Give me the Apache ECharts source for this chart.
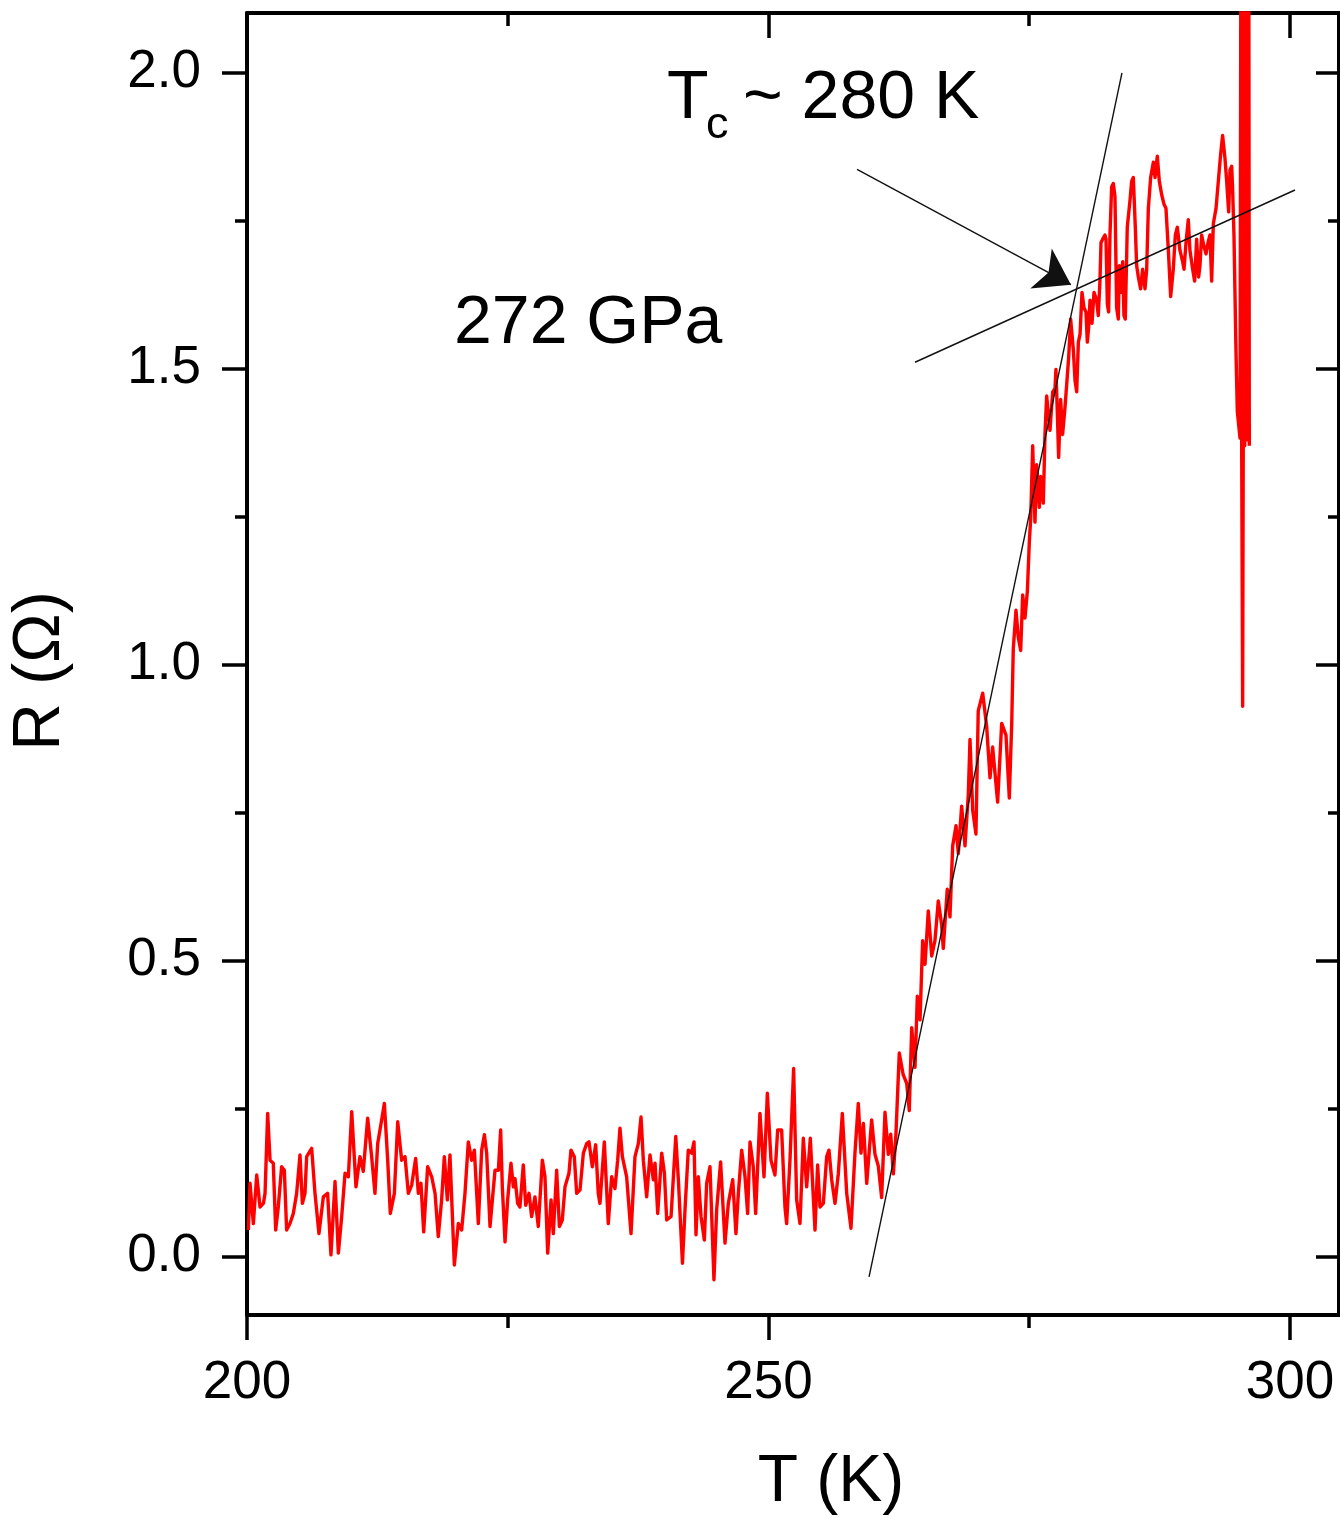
<!DOCTYPE html>
<html><head><meta charset="utf-8">
<script src="https://cdn.jsdelivr.net/npm/echarts@6/dist/echarts.min.js"></script>
<style>html,body{margin:0;padding:0;background:#fff}#c{width:1340px;height:1517px}</style>
</head><body><div id="c"></div>
<script>
// Temperature (K) and resistance (Ohm)
const temperature = [
200.13,200.29,200.61,200.93,201.25,201.57,201.73,201.98,202.21,202.52,202.75,203.00,203.32,203.58,203.80,204.12,204.44,204.76,205.08,205.31,205.56,205.72,206.20,206.52,206.90,207.32,207.73,208.05,208.44,208.76,209.08,209.40,209.72,210.04,210.45,210.83,211.15,211.57,211.95,212.27,212.53,212.91,213.17,213.49,213.74,214.13,214.45,214.83,215.15,215.47,215.79,216.17,216.43,216.68,216.94,217.32,217.71,218.03,218.34,218.66,218.92,219.21,219.46,219.88,220.26,220.58,
220.90,221.22,221.54,221.80,222.18,222.50,222.76,222.98,223.30,223.78,224.10,224.32,224.48,224.74,224.99,225.31,225.54,225.70,225.95,226.17,226.49,226.72,227.04,227.29,227.61,227.93,228.32,228.57,228.83,229.15,229.37,229.69,229.95,230.23,230.49,230.87,231.06,231.38,231.61,231.93,232.25,232.57,232.79,233.11,233.43,233.68,233.84,234.26,234.64,234.96,235.28,235.54,235.76,235.99,236.40,236.82,237.20,237.52,237.78,238.00,238.32,238.64,238.96,239.12,239.38,239.76,240.02,240.24,240.66,241.11,241.36,241.75,242.01,
242.31,242.63,242.86,243.05,243.27,243.53,243.85,244.07,244.39,244.77,245.03,245.41,245.83,246.15,246.57,246.88,247.11,247.43,247.75,248.00,248.23,248.54,248.77,249.18,249.57,249.89,250.24,250.62,250.88,251.26,251.58,251.74,252.06,252.41,252.70,253.02,253.34,253.66,254.01,254.46,254.71,254.94,255.26,255.58,255.80,256.06,256.38,256.70,257.08,257.50,257.91,258.29,258.61,258.87,259.10,259.42,
259.89,260.21,260.53,260.85,261.17,261.49,261.72,261.97,262.22,262.54,262.92,263.25,263.50,263.73,264.05,264.27,264.53,264.78,265.01,265.32,265.65,265.96,266.28,266.60,266.76,267.14,267.40,267.66,267.98,268.20,268.52,268.84,269.16,269.32,269.58,269.89,270.11,270.54,270.92,271.24,271.49,271.97,272.36,272.77,273.09,273.32,
273.47,273.73,273.95,274.18,274.37,274.59,274.82,275.01,275.14,275.33,275.55,275.71,275.97,276.09,276.35,276.51,276.67,276.99,277.25,277.47,277.56,277.69,277.82,278.01,278.20,278.43,278.59,278.78,278.97,279.23,279.39,279.55,279.71,279.87,280.06,280.25,280.44,280.57,280.70,280.83,281.02,281.21,281.46,281.62,281.78,281.88,282.04,282.26,282.36,282.49,282.61,282.74,282.90,283.06,283.22,283.38,283.54,283.64,283.76,283.96,284.08,284.21,284.40,284.66,284.82,284.98,285.17,285.30,285.46,285.68,285.87,286.10,286.26,286.42,286.64,286.90,287.06,287.28,287.47,287.70,287.92,288.11,288.34,288.56,288.81,289.01,289.20,289.45,289.71,289.84,290.03,290.25,290.41,290.67,290.86,291.05,291.24,291.37,291.53,291.75,291.95,292.14,292.33,292.49,292.65,292.91,293.16,293.35,293.54,293.77,293.93,294.12,294.25,294.41,294.50,294.63,294.82,294.95,295.21,
295.30,295.37,295.46,295.52,295.58,295.66,295.74,295.82,295.90,295.98,296.05,296.10
];
const resistance = [
0.045,0.124,0.056,0.138,0.084,0.090,0.107,0.242,0.163,0.158,0.045,0.084,0.152,0.146,0.045,0.056,0.073,0.107,0.172,0.090,0.107,0.169,0.183,0.107,0.039,0.101,0.107,0.003,0.127,0.006,0.068,0.141,0.135,0.245,0.118,0.169,0.144,0.234,0.169,0.107,0.191,0.231,0.259,0.163,0.073,0.107,0.228,0.163,0.169,0.107,0.121,0.166,0.107,0.124,0.042,0.152,0.135,0.107,0.034,0.096,0.169,0.096,0.172,-0.014,0.056,0.045,
0.107,0.194,0.163,0.180,0.056,0.180,0.206,0.175,0.051,0.146,0.146,0.214,0.118,0.025,0.096,0.158,0.118,0.132,0.090,0.084,0.155,0.087,0.107,0.068,0.101,0.051,0.163,0.135,0.006,0.096,0.039,0.146,0.051,0.062,0.118,0.141,0.180,0.169,0.107,0.113,0.175,0.191,0.194,0.152,0.189,0.107,0.090,0.194,0.056,0.135,0.115,0.163,0.217,0.169,0.135,0.039,0.169,0.191,0.236,0.163,0.101,0.172,0.130,0.158,0.073,0.175,0.141,0.062,0.068,0.203,0.130,-0.011,0.084,
0.180,0.175,0.194,0.037,0.135,0.068,0.028,0.124,0.152,-0.039,0.079,0.160,0.023,0.090,0.130,0.039,0.107,0.180,0.135,0.073,0.194,0.152,0.073,0.242,0.135,0.276,0.163,0.138,0.214,0.214,0.084,0.056,0.163,0.318,0.096,0.056,0.200,0.118,0.200,0.045,0.155,0.084,0.090,0.169,0.180,0.130,0.090,0.141,0.242,0.107,0.048,0.175,0.259,0.175,0.225,0.124,
0.231,0.173,0.153,0.100,0.244,0.173,0.207,0.140,0.207,0.344,0.307,0.293,0.247,0.387,0.320,0.440,0.400,0.534,0.494,0.584,0.508,0.534,0.601,0.561,0.521,0.621,0.574,0.694,0.728,0.681,0.761,0.694,0.781,0.874,0.754,0.714,0.922,0.952,0.895,0.809,0.861,0.768,0.901,0.881,0.775,0.901,
1.027,1.092,1.046,1.024,1.118,1.079,1.124,1.208,1.247,1.370,1.241,1.338,1.266,1.318,1.273,1.389,1.454,1.396,1.461,1.467,1.499,1.428,1.350,1.448,1.389,1.435,1.473,1.519,1.584,1.532,1.480,1.461,1.545,1.558,1.629,1.603,1.596,1.545,1.571,1.616,1.577,1.629,1.616,1.590,1.648,1.713,1.719,1.726,1.719,1.609,1.596,1.726,1.807,1.813,1.791,1.603,1.584,1.674,1.629,1.681,1.590,1.584,1.739,1.784,1.817,1.823,1.739,1.674,1.655,1.635,1.668,1.635,1.668,1.771,1.823,1.849,1.823,1.859,1.817,1.794,1.778,1.771,1.700,1.622,1.668,1.726,1.739,1.700,1.681,1.668,1.713,1.752,1.700,1.668,1.648,1.719,1.655,1.674,1.726,1.707,1.694,1.713,1.726,1.648,1.745,1.771,1.823,1.862,1.894,1.855,1.817,1.765,1.836,1.842,1.804,1.726,1.532,1.428,1.383,
2.300,1.370,0.930,1.380,2.300,1.370,2.300,1.380,2.300,1.380,2.300,1.370
];
const xMajorTicks = [200, 250, 300];
const xMinorTicks = [225, 275];
const yMajorTicks = [0, 0.5, 1.0, 1.5, 2.0];
const yMinorTicks = [0.25, 0.75, 1.25, 1.75];
const tangentSteep = [[259.64, -0.034], [283.89, 2.0]];
const tangentFlat = [[264.05, 1.511], [300.48, 1.802]];
const arrowLine = [[258.49, 1.837], [279.0, 1.642]];
const X_MIN = 200, X_MAX = 304.7, Y_MIN = -0.0985, Y_MAX = 2.101;

const FONT = '"Liberation Sans", Arial, sans-serif';
const black = '#000';

function xAx(pos, ticks, len, inside, showLine, labels) {
  return {
    type: 'value', position: pos, min: X_MIN, max: X_MAX,
    axisLine: {show: showLine, onZero: false, lineStyle: {color: black, width: 4}},
    axisTick: {show: true, inside: inside, length: len, customValues: ticks, lineStyle: {color: black, width: 3.5}},
    axisLabel: labels ? {show: true, customValues: ticks, fontSize: 53, fontFamily: FONT, color: black, margin: 42} : {show: false},
    splitLine: {show: false}
  };
}
function yAx(pos, ticks, len, inside, showLine, labels) {
  return {
    type: 'value', position: pos, min: Y_MIN, max: Y_MAX,
    axisLine: {show: showLine, onZero: false, lineStyle: {color: black, width: 4}},
    axisTick: {show: true, inside: inside, length: len, customValues: ticks, lineStyle: {color: black, width: 3.5}},
    axisLabel: labels ? {show: true, customValues: ticks, fontSize: 53, fontFamily: FONT, color: black, margin: 46,
      formatter: v => Number(v).toFixed(1)} : {show: false},
    splitLine: {show: false}
  };
}

const chart = echarts.init(document.getElementById('c'), null, {renderer: 'canvas'});
chart.setOption({
  animation: false,
  backgroundColor: '#fff',
  grid: {left: 247, top: 13, width: 1092, height: 1302, containLabel: false},
  xAxis: [
    xAx('bottom', xMajorTicks, 25, false, true, true),
    xAx('bottom', xMinorTicks, 13, false, false, false),
    xAx('top', xMajorTicks, 25, true, true, false),
    xAx('top', xMinorTicks, 13, true, false, false)
  ],
  yAxis: [
    yAx('left', yMajorTicks, 25, false, true, true),
    yAx('left', yMinorTicks, 12, false, false, false),
    yAx('right', yMajorTicks, 23, true, true, false),
    yAx('right', yMinorTicks, 11, true, false, false)
  ],
  series: [
    {
      type: 'line', xAxisIndex: 0, yAxisIndex: 0,
      data: temperature.map((t, i) => [t, resistance[i]]),
      showSymbol: false, symbol: 'none', clip: true,
      lineStyle: {color: '#ff0000', width: 3.4, join: 'round'}, z: 3
    },
    {
      type: 'line', xAxisIndex: 0, yAxisIndex: 0, data: tangentSteep,
      showSymbol: false, symbol: 'none', lineStyle: {color: '#111', width: 1.4}, z: 4
    },
    {
      type: 'line', xAxisIndex: 0, yAxisIndex: 0, data: tangentFlat,
      showSymbol: false, symbol: 'none', lineStyle: {color: '#111', width: 1.4}, z: 4
    },
    {
      type: 'lines', coordinateSystem: 'cartesian2d', xAxisIndex: 0, yAxisIndex: 0,
      data: [{coords: arrowLine}],
      symbol: ['none', 'arrow'], symbolSize: [18, 34],
      lineStyle: {color: '#111', width: 1.4, opacity: 1}, z: 5
    }
  ],
  graphic: [
    {type: 'text', x: 831, y: 1483, style: {text: 'T (K)', fontSize: 66, fontFamily: FONT, fill: black,
      align: 'center', verticalAlign: 'middle', textAlign: 'center', textVerticalAlign: 'middle'}},
    {type: 'text', x: 41, y: 671, rotation: Math.PI / 2, style: {text: 'R (\u03A9)', fontSize: 66, fontFamily: FONT, fill: black,
      align: 'center', verticalAlign: 'middle', textAlign: 'center', textVerticalAlign: 'middle'}},
    {type: 'text', x: 667, y: 99, style: {text: 'T', fontSize: 68, fontFamily: FONT, fill: black,
      align: 'left', verticalAlign: 'middle', textAlign: 'left', textVerticalAlign: 'middle'}},
    {type: 'text', x: 706, y: 126, style: {text: 'c', fontSize: 45, fontFamily: FONT, fill: black,
      align: 'left', verticalAlign: 'middle', textAlign: 'left', textVerticalAlign: 'middle'}},
    {type: 'text', x: 743, y: 99, style: {text: '~ 280 K', fontSize: 68, fontFamily: FONT, fill: black,
      align: 'left', verticalAlign: 'middle', textAlign: 'left', textVerticalAlign: 'middle'}},
    {type: 'text', x: 454, y: 324, style: {text: '272 GPa', fontSize: 68, fontFamily: FONT, fill: black,
      align: 'left', verticalAlign: 'middle', textAlign: 'left', textVerticalAlign: 'middle'}}
  ]
});
</script>
</body></html>
